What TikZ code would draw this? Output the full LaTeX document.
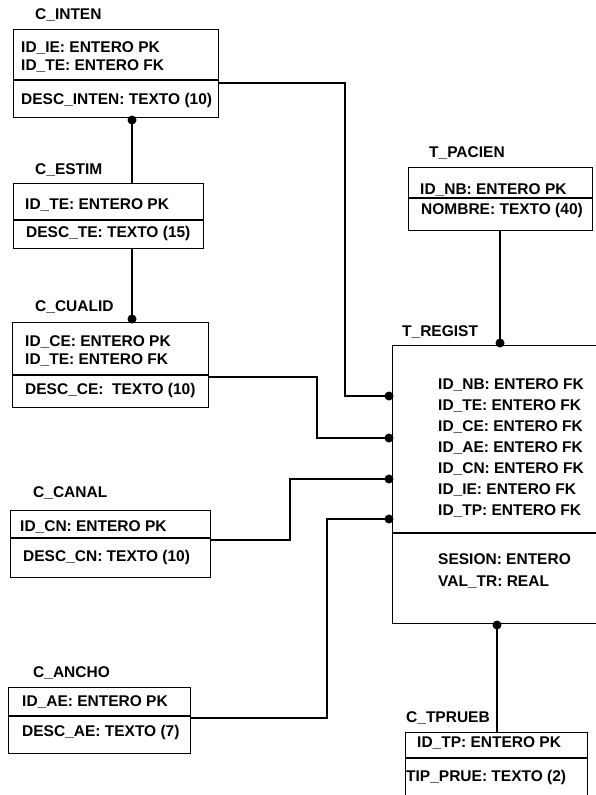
\documentclass[tikz,border=0pt]{standalone}
\usepackage{fontspec}
\setmainfont{Liberation Sans}
\begin{document}
\begin{tikzpicture}[x=1pt,y=-1pt,
  ent/.style={draw,line width=1.2pt,inner sep=0pt,anchor=north west},
  txt/.style={anchor=west,inner sep=0pt,font=\fontsize{15.5}{18}\selectfont\bfseries},
  lbl/.style={anchor=west,inner sep=0pt,font=\fontsize{15.5}{18}\selectfont\bfseries},
  conn/.style={line width=1.2pt},
  dot/.style={fill=black}]
\useasboundingbox (0,0) rectangle (595,795);
\fill[white] (0,0) rectangle (595,795);

% ---- C_INTEN
\node[lbl] (linten) at (35,15) {C\_INTEN};
\node[ent,minimum width=205pt,minimum height=88pt] (inten) at (13,29) {};
\draw[line width=1.2pt] (13,80) -- (218,80);
\node[txt] (inten1) at (21,48) {ID\_IE: ENTERO PK};
\node[txt] (inten2) at (21,66) {ID\_TE: ENTERO FK};
\node[txt] (inten3) at (21,100) {DESC\_INTEN: TEXTO (10)};

% ---- C_ESTIM
\node[lbl] (lestim) at (35,170) {C\_ESTIM};
\node[ent,minimum width=190pt,minimum height=65pt] (estim) at (13,183) {};
\draw[line width=1.2pt] (13,220) -- (203,220);
\node[txt] (estim1) at (25,205) {ID\_TE: ENTERO PK};
\node[txt] (estim2) at (26,233) {DESC\_TE: TEXTO (15)};

% ---- C_CUALID
\node[lbl] (lcualid) at (35,307) {C\_CUALID};
\node[ent,minimum width=196pt,minimum height=85pt] (cualid) at (12,322) {};
\draw[line width=1.2pt] (12,375) -- (208,375);
\node[txt] (cualid1) at (25,342) {ID\_CE: ENTERO PK};
\node[txt] (cualid2) at (25,360) {ID\_TE: ENTERO FK};
\node[txt] (cualid3) at (25,390) {DESC\_CE:\ \ TEXTO (10)};

% ---- C_CANAL
\node[lbl] (lcanal) at (33,493) {C\_CANAL};
\node[ent,minimum width=200pt,minimum height=67pt] (canal) at (10,510) {};
\draw[line width=1.2pt] (10,538) -- (210,538);
\node[txt] (canal1) at (20,527) {ID\_CN: ENTERO PK};
\node[txt] (canal2) at (23,557) {DESC\_CN: TEXTO (10)};

% ---- C_ANCHO
\node[lbl] (lancho) at (33,673) {C\_ANCHO};
\node[ent,minimum width=182pt,minimum height=66pt] (ancho) at (8,687) {};
\draw[line width=1.2pt] (8,716) -- (190,716);
\node[txt] (ancho1) at (22,702) {ID\_AE: ENTERO PK};
\node[txt] (ancho2) at (22,732) {DESC\_AE: TEXTO (7)};

% ---- T_PACIEN
\node[lbl] (lpacien) at (429,153) {T\_PACIEN};
\node[ent,minimum width=184pt,minimum height=63pt] (pacien) at (408,167) {};
\draw[line width=1.2pt] (408,198) -- (592,198);
\node[txt] (pacien1) at (420,190) {ID\_NB: ENTERO PK};
\node[txt] (pacien2) at (421,210) {NOMBRE: TEXTO (40)};

% ---- T_REGIST
\node[lbl] (lregist) at (402,332) {T\_REGIST};
\node[ent,minimum width=213pt,minimum height=278pt] (regist) at (392,345) {};
\draw[line width=1.2pt] (392,533) -- (600,533);
\node[txt] (reg1) at (438,385) {ID\_NB: ENTERO FK};
\node[txt] (reg2) at (438,406) {ID\_TE: ENTERO FK};
\node[txt] (reg3) at (438,427) {ID\_CE: ENTERO FK};
\node[txt] (reg4) at (438,448) {ID\_AE: ENTERO FK};
\node[txt] (reg5) at (438,469) {ID\_CN: ENTERO FK};
\node[txt] (reg6) at (438,490) {ID\_IE: ENTERO FK};
\node[txt] (reg7) at (438,511) {ID\_TP: ENTERO FK};
\node[txt] (reg8) at (438,559) {SESION: ENTERO};
\node[txt] (reg9) at (438,582) {VAL\_TR: REAL};

% ---- C_TPRUEB
\node[lbl] (ltprueb) at (406,718) {C\_TPRUEB};
\node[ent,minimum width=182pt,minimum height=70pt] (tprueb) at (405,732) {};
\draw[line width=1.2pt] (405,758) -- (587,758);
\node[txt] (tprueb1) at (417,743) {ID\_TP: ENTERO PK};
\node[txt] (tprueb2) at (406,777) {TIP\_PRUE: TEXTO (2)};

% ---- connection points
\coordinate (iA) at (218,83);
\coordinate (rA) at (389,396);
\coordinate (cA) at (208,377);
\coordinate (rB) at (389,438);
\coordinate (nA) at (210,540);
\coordinate (rC) at (389,479);
\coordinate (aA) at (190,718);
\coordinate (rD) at (389,519);

% ---- connectors
\draw[conn] (iA) -- (345,83) |- (rA) -- (regist.west |- rA);
\draw[conn] (cA) -- (317,377) |- (rB) -- (regist.west |- rB);
\draw[conn] (nA) -- (290,540) |- (rC) -- (regist.west |- rC);
\draw[conn] (aA) -- (327,718) |- (rD) -- (regist.west |- rD);
\draw[conn] (132,117) -- (estim.north -| 132,0);
\draw[conn] (132,248) -- (cualid.north -| 132,0);
\draw[conn] (500,230) -- (regist.north -| 500,0);
\draw[conn] (497,623) -- (tprueb.north -| 497,0);

% ---- dots
\fill[dot] (rA) circle (4.5);
\fill[dot] (rB) circle (4.5);
\fill[dot] (rC) circle (4.5);
\fill[dot] (rD) circle (4.5);
\fill[dot] (132,120) circle (4.5);
\fill[dot] (132,319) circle (4.5);
\fill[dot] (500,343) circle (4.5);
\fill[dot] (497,625) circle (4.5);
\end{tikzpicture}
\end{document}
